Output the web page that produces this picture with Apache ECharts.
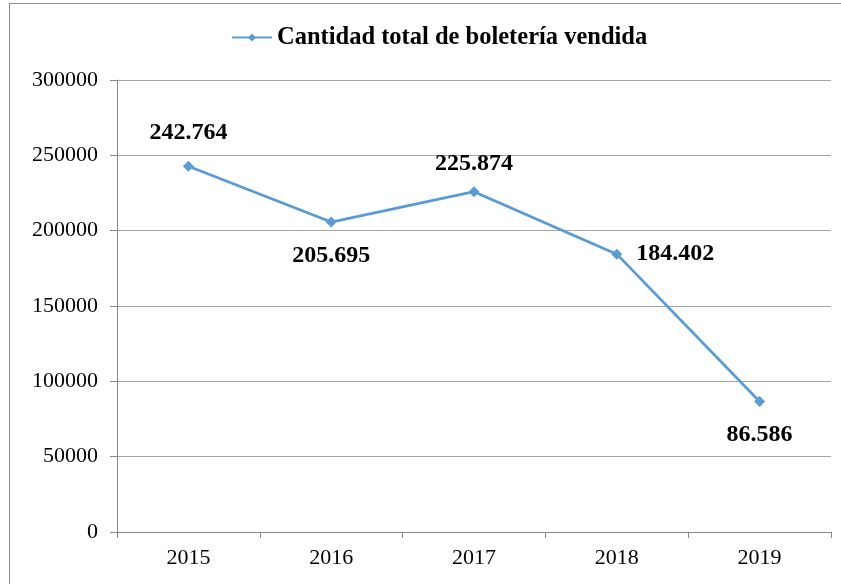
<!DOCTYPE html>
<html>
<head>
<meta charset="utf-8">
<script src="https://cdn.jsdelivr.net/npm/echarts@6/dist/echarts.min.js"></script>
<style>
html,body{margin:0;padding:0;background:#fff;}
#chart{width:841px;height:584px;}
</style>
</head>
<body>
<div id="chart"></div>
<script>
var years = ['2015', '2016', '2017', '2018', '2019'];
var ventas = [242764, 205695, 225874, 184402, 86586];
// posición de cada etiqueta respecto al punto
var labelPos = ['top', 'bottom', 'top', 'right', 'bottom'];
var labelDist = [16, 16, 10, 14, 16];

var serif = '"Liberation Serif", "Times New Roman", serif';
var lineColor = '#5b9bd5';

function fmtMiles(v)
{
	return String(v).replace(/\B(?=(\d{3})+(?!\d))/g, '.');
}

var seriesData = [];
for (var i = 0; i < ventas.length; i++)
{
	seriesData.push({
		value: ventas[i],
		label: {position: labelPos[i], distance: labelDist[i]}
	});
}

var myChart = echarts.init(document.getElementById('chart'));
var option = {
	backgroundColor: '#fff',
	animation: false,
	graphic: [{
		type: 'rect',
		shape: {x: 9.5, y: 3.5, width: 900, height: 700},
		style: {fill: 'none', stroke: '#8c8c8c', lineWidth: 1},
		silent: true
	}],
	legend: {
		top: 20,
		left: 226,
		itemWidth: 40,
		itemHeight: 10,
		itemGap: 4,
		textStyle: {fontFamily: serif, fontSize: 24.5, fontWeight: 'bold', color: '#000'},
		data: ['Cantidad total de boletería vendida']
	},
	grid: {left: 117, right: 10, top: 80, bottom: 52},
	xAxis: {
		type: 'category',
		data: years,
		boundaryGap: true,
		axisLine: {lineStyle: {color: '#868686'}},
		axisTick: {show: true, length: 6, lineStyle: {color: '#868686'}},
		axisLabel: {fontFamily: serif, fontSize: 22, color: '#000', margin: 15}
	},
	yAxis: {
		type: 'value',
		min: 0,
		max: 300000,
		interval: 50000,
		axisLine: {show: true, lineStyle: {color: '#868686'}},
		axisTick: {show: true, length: 7, lineStyle: {color: '#868686'}},
		axisLabel: {fontFamily: serif, fontSize: 22, color: '#000', margin: 19,
			formatter: function(v){ return String(v); }},
		splitLine: {lineStyle: {color: '#a6a6a6'}}
	},
	series: [{
		name: 'Cantidad total de boletería vendida',
		type: 'line',
		data: seriesData,
		symbol: 'diamond',
		symbolSize: 11,
		color: lineColor,
		lineStyle: {width: 2.75, color: lineColor},
		itemStyle: {color: lineColor},
		label: {
			show: true,
			fontFamily: serif,
			fontSize: 24,
			fontWeight: 'bold',
			color: '#000',
			formatter: function(p){ return fmtMiles(p.value); }
		}
	}]
};
myChart.setOption(option);
</script>
</body>
</html>
